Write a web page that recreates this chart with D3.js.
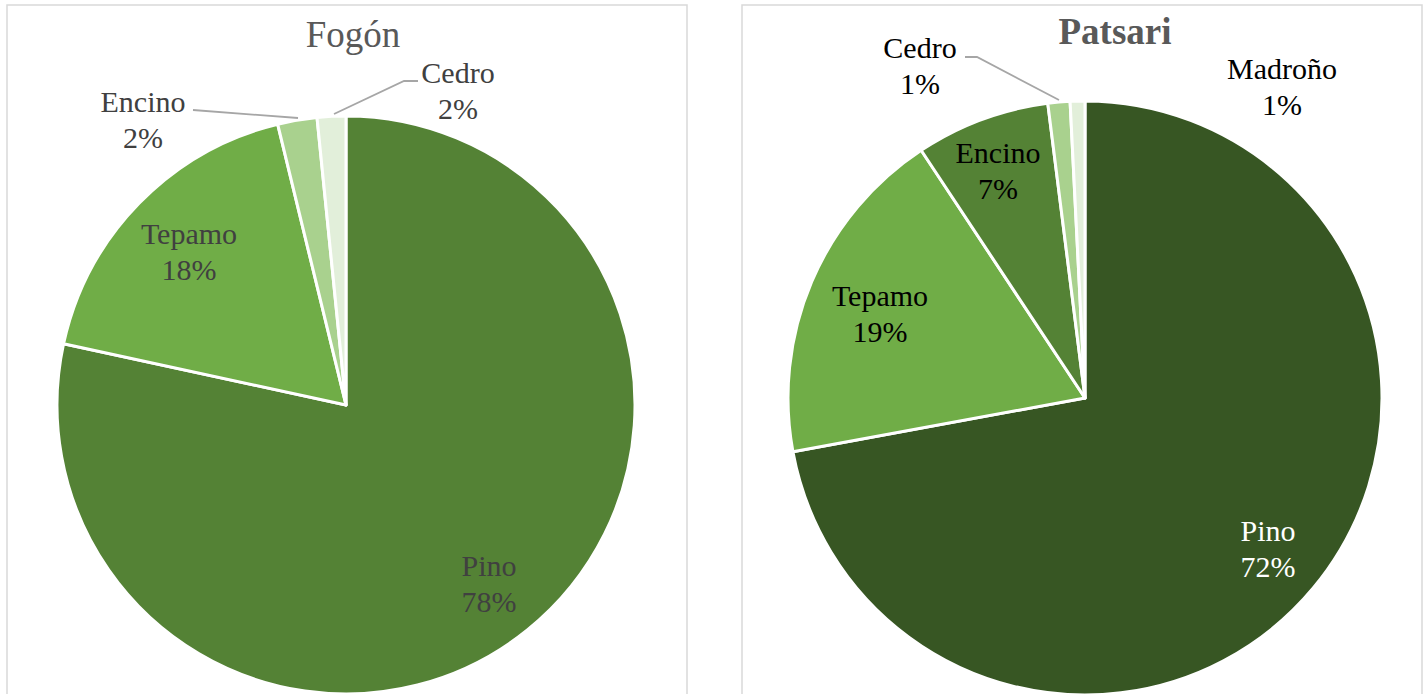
<!DOCTYPE html>
<html>
<head>
<meta charset="utf-8">
<script src="https://cdn.jsdelivr.net/npm/d3@7/dist/d3.min.js"></script>
<style>
  html, body { margin: 0; padding: 0; background: #fff; }
  svg { display: block; }
</style>
</head>
<body>
<svg id="chart" width="1428" height="694"></svg>
<script>
// Firewood species share by stove type
const fogonCategories = ["Pino", "Tepamo", "Encino", "Cedro"];
const fogonValues = [78.4, 17.8, 2.2, 1.6];

const patsariCategories = ["Pino", "Tepamo", "Encino", "Cedro", "Madroño"];
const patsariValues = [72.1, 18.6, 7.3, 1.2, 0.8];

const fogonColors = ["#548235", "#70AD47", "#A9D18E", "#E2EFDA"];
const patsariColors = ["#375623", "#70AD47", "#548235", "#A9D18E", "#E2EFDA"];

const serif = "'Liberation Serif', 'Times New Roman', Times, serif";
const svg = d3.select("#chart");

// Panel layouts: frame, pie geometry, title and label anchors (relative to pie centre)
const panels = [
  {
    title: "Fogón", bold: false, titleColor: "#595959",
    frame: { x: 7, y: 5, w: 680, h: 700 },
    cx: 346, cy: 405, r: 289,
    titlePos: [353, 47],
    categories: fogonCategories, values: fogonValues, colors: fogonColors,
    labelColor: ["#404040", "#404040", "#404040", "#404040"],
    labelPos: { "Pino": [143, 170], "Tepamo": [-157, -162], "Encino": [-203, -294], "Cedro": [112, -323] },
    leaders: {
      "Encino": [[193, 110], [298, 118]],
      "Cedro": [[418, 81], [404, 81], [334, 114]]
    }
  },
  {
    title: "Patsari", bold: true, titleColor: "#595959",
    frame: { x: 742, y: 5, w: 680, h: 700 },
    cx: 1085, cy: 398, r: 297,
    titlePos: [1115, 44],
    categories: patsariCategories, values: patsariValues, colors: patsariColors,
    labelColor: ["#ffffff", "#000000", "#000000", "#000000", "#000000"],
    labelPos: { "Pino": [183, 142], "Tepamo": [-205, -93], "Encino": [-87, -236], "Cedro": [-165, -341], "Madroño": [197, -320] },
    leaders: {
      "Cedro": [[965, 57], [977, 57], [1059, 100]]
    }
  }
];

const lineH = 36;

panels.forEach(p => {
  const g = svg.append("g");

  g.append("rect")
    .attr("x", p.frame.x).attr("y", p.frame.y)
    .attr("width", p.frame.w).attr("height", p.frame.h)
    .attr("fill", "#fff").attr("stroke", "#D9D9D9").attr("stroke-width", 1.5);

  g.append("text")
    .attr("x", p.titlePos[0]).attr("y", p.titlePos[1])
    .attr("text-anchor", "middle")
    .attr("font-family", serif)
    .attr("font-size", 37)
    .attr("font-weight", p.bold ? "bold" : "normal")
    .attr("fill", p.titleColor)
    .text(p.title);

  const rows = p.categories.map((c, i) => ({ cat: c, value: p.values[i], color: p.colors[i], lc: p.labelColor[i] }));
  const total = d3.sum(rows, d => d.value);

  const pie = d3.pie().sort(null).value(d => d.value).startAngle(0).endAngle(2 * Math.PI);
  const arc = d3.arc().innerRadius(0).outerRadius(p.r);
  const arcs = pie(rows);

  const pg = g.append("g").attr("transform", `translate(${p.cx},${p.cy})`);
  pg.selectAll("path")
    .data(arcs)
    .join("path")
    .attr("d", arc)
    .attr("fill", d => d.data.color)
    .attr("stroke", "#fff")
    .attr("stroke-width", 3)
    .attr("stroke-linejoin", "round");

  // leader lines for thin slices
  Object.values(p.leaders).forEach(pts => {
    g.append("path")
      .attr("d", d3.line()(pts))
      .attr("fill", "none")
      .attr("stroke", "#A6A6A6")
      .attr("stroke-width", 1.8);
  });

  // two-line labels: category and rounded share
  arcs.forEach(a => {
    const pos = p.labelPos[a.data.cat];
    const t = g.append("text")
      .attr("text-anchor", "middle")
      .attr("font-family", serif)
      .attr("font-size", 30)
      .attr("fill", a.data.lc);
    const x = p.cx + pos[0];
    const y = p.cy + pos[1];
    t.append("tspan").attr("x", x).attr("y", y - lineH / 2 + 19)
      .attr("font-family", serif).text(a.data.cat);
    t.append("tspan").attr("x", x).attr("y", y + lineH / 2 + 19)
      .attr("font-family", serif)
      .text(d3.format(".0f")(a.data.value / total * 100) + "%");
  });
});
</script>
</body>
</html>
